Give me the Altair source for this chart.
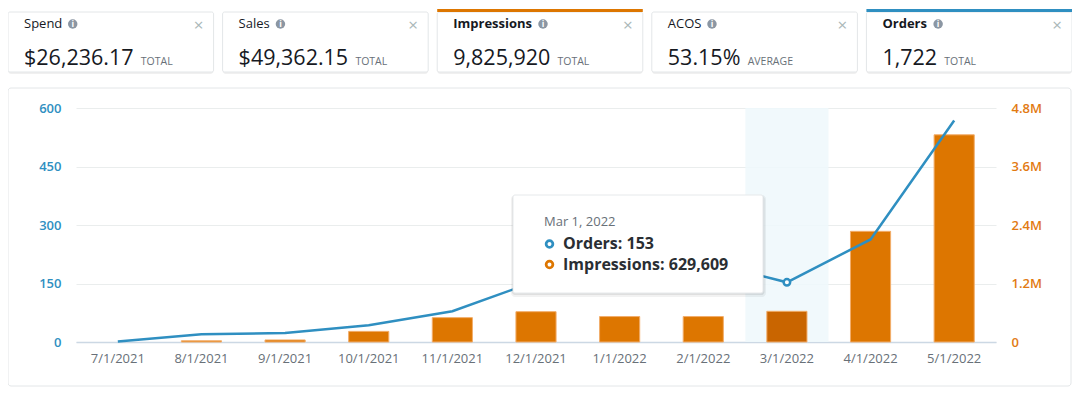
import altair as alt
import pandas as pd

FONT = "Open Sans"
BLUE = "#2f8fc1"
ORANGE = "#dd7600"
ORANGE_DARK = "#c96500"
ORANGE_LABEL = "#e27a12"
TEXT_DARK = "#16191f"
TEXT_GREY = "#687078"

# ---------------- data ----------------
months = ["7/1/2021", "8/1/2021", "9/1/2021", "10/1/2021", "11/1/2021", "12/1/2021",
          "1/1/2022", "2/1/2022", "3/1/2022", "4/1/2022", "5/1/2022"]
orders = [1, 20, 23, 43, 79, 156, 209, 207, 153, 263, 568]
impressions = [0, 25000, 42000, 218000, 500000, 622000, 522000, 522000, 629609, 2270000, 4250000]

hover_month = "3/1/2022"
hover_label = "Mar 1, 2022"

order_ticks = [0, 150, 300, 450, 600]
impression_ticks = [0, 1200000, 2400000, 3600000, 4800000]

card_names = ["Spend", "Sales", "Impressions", "ACOS", "Orders"]
card_values = ["$26,236.17", "$49,362.15", "9,825,920", "53.15%", "1,722"]
card_units = ["TOTAL", "TOTAL", "TOTAL", "AVERAGE", "TOTAL"]
card_accents = ["", "", ORANGE, "", BLUE]

# ---------------- helpers (text width estimate for decoration layout) ----------------
_W = {"$": .572, ",": .26, ".": .27, "%": .83, " ": .26, ":": .27,
      "S": .55, "p": .61, "e": .56, "n": .61, "d": .61, "a": .56, "l": .26, "s": .48,
      "I": .28, "m": .93, "r": .41, "i": .26, "o": .60, "A": .63, "C": .63, "O": .78}


def text_width(s, size, bold=False):
    w = sum(_W.get(c, .572) for c in s) * size
    return w * 1.07 if bold else w


LABEL_SIZE = 13
VALUE_SIZE = 21.5
card_bold = [a != "" for a in card_accents]
icon_dx = [16 + text_width(n, LABEL_SIZE, b) + 10.5 for n, b in zip(card_names, card_bold)]
unit_dx = [16 + text_width(v, VALUE_SIZE) + 7 for v in card_values]

df = pd.DataFrame({"month": months, "orders": orders, "impressions": impressions})
cards_df = pd.DataFrame({"card": card_names, "value": card_values, "unit": card_units,
                         "accent": card_accents, "bold": card_bold,
                         "icon_dx": icon_dx, "unit_dx": unit_dx})

# ---------------- cards ----------------
card_scale = alt.Scale(domain=card_names, range=[-68, 996], paddingInner=0.042, paddingOuter=0)
cx_full = alt.X("card:N", sort=card_names, scale=card_scale, axis=None)
cx_left = alt.X("card:N", sort=card_names, scale=card_scale, axis=None, bandPosition=0)
cx_right = alt.X("card:N", sort=card_names, scale=card_scale, axis=None, bandPosition=1)

cbase = alt.Chart(cards_df)
card_shadow = cbase.mark_rect(fill="#000000", opacity=0.06, cornerRadius=3).encode(
    x=cx_full, y=alt.value(-95), y2=alt.value(-34))
card_rect = cbase.mark_rect(fill="white", stroke="#e3e6e8", strokeWidth=1, cornerRadius=2).encode(
    x=cx_full, y=alt.value(-96), y2=alt.value(-36))
card_accent = cbase.transform_filter("datum.accent != ''").mark_rect().encode(
    x=cx_full, y=alt.value(-99), y2=alt.value(-96), color=alt.Color("accent:N", scale=None))
label_reg = cbase.transform_filter("!datum.bold").mark_text(
    align="left", baseline="middle", dx=16, font=FONT, fontSize=LABEL_SIZE, color=TEXT_DARK).encode(
    x=cx_left, y=alt.value(-84), text="card:N")
label_bold = cbase.transform_filter("datum.bold").mark_text(
    align="left", baseline="middle", dx=16, font=FONT, fontSize=LABEL_SIZE, fontWeight="bold",
    color=TEXT_DARK).encode(x=cx_left, y=alt.value(-84), text="card:N")
icon = cbase.mark_point(shape="circle", filled=True, color="#8b96a3", size=90, opacity=1).encode(
    x=cx_left, xOffset=alt.XOffset("icon_dx:Q", scale=None), y=alt.value(-84))
icon_i = cbase.mark_text(text="i", font=FONT, fontSize=8.5, fontWeight="bold", color="white",
                         baseline="middle", align="center").encode(
    x=cx_left, xOffset=alt.XOffset("icon_dx:Q", scale=None), y=alt.value(-84))
value_txt = cbase.mark_text(align="left", baseline="alphabetic", dx=16, font=FONT,
                            fontSize=VALUE_SIZE, color=TEXT_DARK).encode(
    x=cx_left, y=alt.value(-43), text="value:N")
unit_txt = cbase.mark_text(align="left", baseline="alphabetic", font=FONT, fontSize=10.5,
                           color=TEXT_GREY).encode(
    x=cx_left, xOffset=alt.XOffset("unit_dx:Q", scale=None), y=alt.value(-43.5), text="unit:N")
close_txt = cbase.mark_text(text="×", align="center", baseline="middle", dx=-15, font=FONT,
                            fontSize=17, color="#aab7b8").encode(x=cx_right, y=alt.value(-82))

cards = alt.layer(card_shadow, card_rect, card_accent, label_reg, label_bold, icon, icon_i,
                  value_txt, unit_txt, close_txt)

# ---------------- panel (outline only, so axes behind marks stay visible) ----------------
one = alt.Data(values=[{"k": 1}])
panel = alt.Chart(one).mark_rect(filled=False, stroke="#e3e6e8", strokeWidth=1, cornerRadius=3).encode(
    x=alt.value(-68), x2=alt.value(995), y=alt.value(-20), y2=alt.value(278))

# ---------------- main chart ----------------
xscale = alt.Scale(domain=months, paddingInner=0.52, paddingOuter=0.26)
x_enc = alt.X("month:N", sort=months, scale=xscale,
              axis=alt.Axis(title=None, labelAngle=0, ticks=False, domainColor="#ccd8e4",
                            domainWidth=1.5, labelColor=TEXT_GREY, labelFont=FONT, labelFontSize=13,
                            labelPadding=10, grid=False))

y_orders_axis = alt.Y("orders:Q", scale=alt.Scale(domain=[0, order_ticks[-1]], nice=False),
                      axis=alt.Axis(orient="left", values=order_ticks, title=None, ticks=False,
                                    domain=False, labelColor=BLUE, labelFont=FONT, labelFontSize=13,
                                    labelFontWeight=600, labelPadding=15, grid=True,
                                    gridColor="#eaeded"))
y_orders_plain = alt.Y("orders:Q", scale=alt.Scale(domain=[0, order_ticks[-1]], nice=False), axis=None)
y_imp = alt.Y("impressions:Q", scale=alt.Scale(domain=[0, impression_ticks[-1]], nice=False),
              axis=alt.Axis(orient="right", values=impression_ticks, title=None, ticks=False,
                            domain=False, labelColor=ORANGE_LABEL, labelFont=FONT, labelFontSize=13,
                            labelFontWeight=600, labelPadding=15, grid=False,
                            labelExpr="datum.value == 0 ? '0' : format(datum.value / 1000000, '.1f') + 'M'"))

base = alt.Chart(df)
highlight = base.transform_filter(alt.datum.month == hover_month).transform_calculate(
    band_top=str(order_ticks[-1]), band_bottom="0").mark_bar(
    color="#eef8fb", opacity=0.85, width=alt.RelativeBandSize(2.07)).encode(
    x=x_enc,
    y=alt.Y("band_top:Q", scale=alt.Scale(domain=[0, order_ticks[-1]], nice=False), axis=None),
    y2="band_bottom:Q")

bars = base.transform_filter(alt.datum.impressions > 0).mark_bar(strokeWidth=1).encode(
    x=x_enc, y=y_imp,
    color=alt.condition(alt.datum.month == hover_month, alt.value(ORANGE_DARK), alt.value(ORANGE)),
    stroke=alt.value("#f2ad6a"))

line = base.mark_line(color=BLUE, strokeWidth=2.5).encode(x=x_enc, y=y_orders_axis)

point = base.transform_filter(alt.datum.month == hover_month).mark_point(
    shape="circle", filled=True, fill="white", stroke=BLUE, strokeWidth=2.5, size=42, opacity=1).encode(
    x=x_enc, y=y_orders_plain)

main = alt.layer(highlight, bars, line, point).resolve_scale(y="independent")

# ---------------- tooltip ----------------
hi = months.index(hover_month)
tip = alt.Data(values=[{"date": hover_label,
                        "o": f"Orders: {orders[hi]:,}",
                        "m": f"Impressions: {impressions[hi]:,}"}])
tchart = alt.Chart(tip)
tip_shadow2 = tchart.mark_rect(fill="black", opacity=0.05, cornerRadius=4).encode(
    x=alt.value(435), x2=alt.value(690), y=alt.value(87), y2=alt.value(189))
tip_shadow = tchart.mark_rect(fill="black", opacity=0.08, cornerRadius=3).encode(
    x=alt.value(436), x2=alt.value(688.5), y=alt.value(88), y2=alt.value(187))
tip_box = tchart.mark_rect(fill="white", stroke="#e6e9eb", strokeWidth=1, cornerRadius=2).encode(
    x=alt.value(437), x2=alt.value(687), y=alt.value(87), y2=alt.value(185))
tip_date = tchart.mark_text(align="left", baseline="middle", font=FONT, fontSize=13,
                            color=TEXT_GREY).encode(x=alt.value(468), y=alt.value(114), text="date:N")
tip_c1 = tchart.mark_point(shape="circle", filled=True, fill="white", stroke=BLUE, strokeWidth=2.8,
                           size=45, opacity=1).encode(x=alt.value(473.5), y=alt.value(136))
tip_c2 = tchart.mark_point(shape="circle", filled=True, fill="white", stroke=ORANGE, strokeWidth=2.8,
                           size=45, opacity=1).encode(x=alt.value(473.5), y=alt.value(156.5))
tip_o = tchart.mark_text(align="left", baseline="middle", font=FONT, fontSize=16, fontWeight="bold",
                         color="#2a2e33").encode(x=alt.value(487), y=alt.value(136), text="o:N")
tip_m = tchart.mark_text(align="left", baseline="middle", font=FONT, fontSize=16, fontWeight="bold",
                         color="#2a2e33").encode(x=alt.value(487), y=alt.value(156.5), text="m:N")
tooltip = alt.layer(tip_shadow2, tip_shadow, tip_box, tip_date, tip_c1, tip_c2, tip_o, tip_m)

chart = alt.layer(panel, cards, main, tooltip).resolve_scale(
    x="independent", y="independent").properties(
    width=920, height=234,
    autosize=alt.AutoSizeParams(type="none"),
    padding={"left": 68, "top": 100, "right": 76, "bottom": 46},
    background="white",
).configure_view(stroke=None)

chart.save("out.html", embed_options={"renderer": "svg", "actions": False})
